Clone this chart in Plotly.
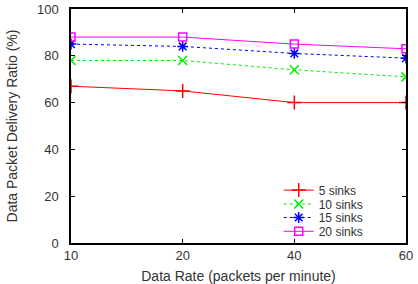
import plotly.graph_objects as go

rates = ["10", "20", "40", "60"]
sinks5 = [67, 65, 60, 60]
sinks10 = [78, 78, 74, 71]
sinks15 = [85, 84, 81, 79]
sinks20 = [88, 88, 85, 83]
y_ticks = [0, 20, 40, 60, 80, 100]

series = [
    ("5 sinks", sinks5, "#ff0000", "solid", "cross-thin-open", 10),
    ("10 sinks", sinks10, "#00ee00", "dot", "x-thin-open", 9),
    ("15 sinks", sinks15, "#0000ff", "dot", "asterisk-open", 9),
    ("20 sinks", sinks20, "#ff00ff", "solid", "square-open", 8),
]
legend_ids = ["legend", "legend2", "legend3", "legend4"]
legend_y = [0.226, 0.167, 0.109, 0.050]

fig = go.Figure()
for (name, vals, col, dash, sym, sz), lid in zip(series, legend_ids):
    fig.add_trace(go.Scatter(
        x=rates, y=vals, name=name, mode="lines+markers", legend=lid,
        line=dict(color=col, width=1, dash=dash),
        marker=dict(symbol=sym, size=sz, color=col, line=dict(color=col, width=1.5)),
    ))

tickfont = dict(family="Liberation Sans, Arial", size=13, color="#333")
axis_common = dict(
    showline=True, linecolor="black", linewidth=1.5, mirror="allticks",
    ticks="inside", ticklen=4, tickcolor="black", showgrid=False, zeroline=False,
    tickfont=tickfont, automargin=False,
)
layout_legends = {}
for lid, ly in zip(legend_ids, legend_y):
    layout_legends[lid] = dict(
        x=0.62, y=ly, xanchor="left", yanchor="middle",
        bgcolor="rgba(0,0,0,0)", borderwidth=0,
        font=dict(family="Liberation Sans, Arial", size=12, color="#333"),
    )

fig.update_layout(
    width=418, height=284,
    margin=dict(l=71, r=12, t=9, b=41),
    plot_bgcolor="white", paper_bgcolor="white",
    font=dict(family="Liberation Sans, Arial", size=13, color="#333"),
    xaxis=dict(type="category", range=[0, 3], **axis_common,
               title=dict(text="Data Rate (packets per minute)", standoff=13,
                          font=dict(size=14))),
    yaxis=dict(range=[0, 100], tickvals=y_ticks, ticklabelstandoff=8, **axis_common,
               title=dict(text="Data Packet Delivery Ratio (%)", standoff=16,
                          font=dict(size=14))),
    showlegend=True,
    **layout_legends,
)
fig.write_html("out.html")
